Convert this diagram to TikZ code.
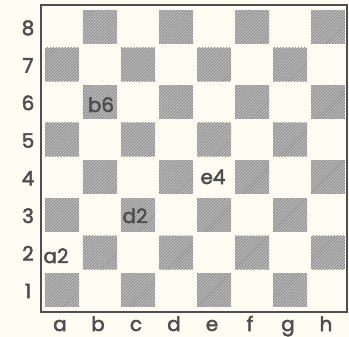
\documentclass[tikz,border=0pt]{standalone}
\usepackage{fontspec}
\setmainfont{Poppins}[FakeBold=2.5]
\usetikzlibrary{patterns.meta}
\definecolor{paper}{RGB}{253,253,244}
\definecolor{ink}{RGB}{78,78,78}
\definecolor{hatch}{RGB}{140,140,140}

\tikzdeclarepattern{
  name=boardhatch, type=uncolored,
  bottom left={(-.1pt,-.1pt)}, top right={(3.1pt,3.1pt)},
  tile size={(3pt,3pt)},
  code={
    \draw[line width=0.9pt] (-1pt,-1pt) -- (4pt,4pt);
  }
}

\begin{document}
\begin{tikzpicture}[x=1bp, y=-1bp,
    dark/.style={draw=none, fill=black!24,
      minimum width=34bp, minimum height=33.5bp, inner sep=0pt},
    darkhatch/.style={pattern=boardhatch, pattern color=hatch,
      minimum width=34bp, minimum height=33.5bp, inner sep=0pt},
    coord/.style={text=ink, anchor=base, inner sep=0pt,
      font=\fontsize{20}{20}\selectfont},
    sqlabel/.style={text=ink, anchor=base, inner sep=0pt,
      font=\fontsize{20}{20}\selectfont}
  ]
  \fill[paper] (0,0) rectangle (349,337);
  \useasboundingbox (0,0) rectangle (349,337);

  % board frame
  \draw[ink, line width=2.5bp] (41,5) rectangle (347,312);

  % dark squares
  \foreach \c/\f in {1/a, 2/b, 3/c, 4/d, 5/e, 6/f, 7/g, 8/h} {
    \foreach \r in {1,...,8} {
      \pgfmathparse{int(mod(\c+\r,2))}
      \ifnum\pgfmathresult=0
        \node[dark] (sq-\f\r) at (24+38*\c, 26.8+37.6*8-37.6*\r) {};
        \node[darkhatch] at (sq-\f\r) {};
      \fi
    }
    % file letters
    \node[coord] (file-\f) at (22+38*\c, 331) {\f};
  }

  % rank numbers
  \foreach \r in {1,...,8} {
    \node[coord] (rank-\r) at (28, 35+37.6*8-37.6*\r) {\r};
  }

  % square names
  \node[sqlabel] (lab-a2) at (56, 263) {a2};
  \node[sqlabel] (lab-b6) at (101, 112) {b6};
  \node[sqlabel] (lab-d2) at (135, 223) {d2};
  \node[sqlabel] (lab-e4) at (213, 184) {e4};
\end{tikzpicture}
\end{document}
